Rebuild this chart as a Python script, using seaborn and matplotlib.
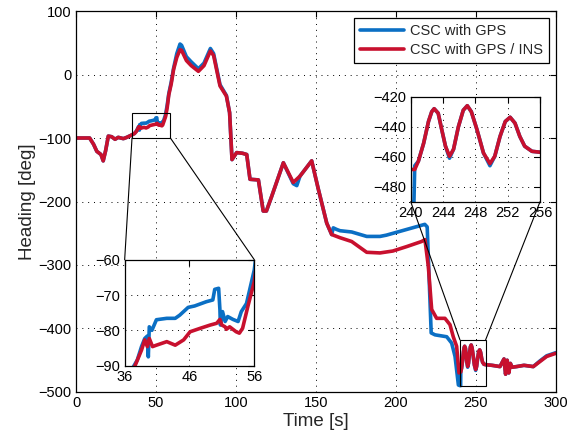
import matplotlib
matplotlib.use("Agg")
import matplotlib.pyplot as plt
import seaborn as sns
import pandas as pd
from matplotlib.patches import Rectangle, ConnectionPatch

# ------------------------------------------------------------------
# Data
# ------------------------------------------------------------------
t_gps = [0, 8.5, 11, 13, 15.6, 17, 18.5, 20.2, 22.3, 24.4, 26.4, 29.6, 31.7, 34.2,
         36.5, 37.95, 38.6, 39.1, 39.5, 39.65, 39.8, 40.2, 40.9, 42.5, 43.8, 44.5,
         45.8, 46.8, 48.6, 49.6, 49.9, 50.5, 50.7, 50.77, 51.1, 51.5, 51.9, 52.7,
         53.5, 54.0, 54.8, 56.0, 57.0, 58.0, 59.5, 61, 63, 65, 66, 69, 72, 76.5, 80,
         84, 86, 90, 94, 96, 97.5, 100.4, 104, 106.7, 108.75, 114, 117, 119, 122.3,
         129.6, 135.8, 138, 140, 147.3, 151.5, 156.7, 159.8, 160.8, 162.9, 165,
         172.3, 181.7, 190, 194, 206.7, 218, 219.5, 222, 224.4, 231.7, 234.8, 236.9,
         239, 240, 240.4, 240.5, 240.95, 241.6, 242.2, 242.6, 242.9, 243.4, 243.8,
         244.3, 244.8, 245.3, 245.9, 246.5, 247.0, 247.5, 248.2, 249.0, 249.8, 250.4,
         251.05, 251.7, 252.3, 252.9, 253.5, 254.1, 255.0, 256, 260, 265,
         267.5, 268.5, 269.5, 270.5, 271.5, 272.5, 275.4, 280, 285.8, 290, 294.2, 300]
hd_gps = [-100, -100, -110, -121, -126, -136, -120, -97, -98, -102, -99, -101, -99, -96,
          -93, -88.4, -84.6, -82.3, -81.6, -87.5, -79, -80, -77, -76.6, -76.6, -75.7,
          -73.5, -73.1, -71.9, -71.4, -68.4, -68.1, -74.2, -78.5, -74.7, -77.5, -76.1, -76.9,
          -77.5, -74.7, -72.4, -62.9, -48, -30, -12, 10, 33, 48, 46, 28, 20, 9, 18,
          41, 33, -16, -33, -60, -134, -123, -124, -126, -165, -166, -215, -215, -192,
          -139, -172, -175, -160, -136, -181, -234, -252, -241.5, -244, -246,
          -248, -255, -255, -253, -244, -236, -240, -407, -410, -413, -423, -444,
          -489, -490, -490, -466, -463, -451, -436.5, -430, -428, -431, -441,
          -453, -461, -455, -440, -429, -426, -430, -442, -457.5, -466, -459.7,
          -446.5, -436.5, -433.7, -437.6, -446.5, -453, -456.4, -457, -458, -460,
          -448, -472, -450, -470, -455, -461, -460, -458, -460, -451, -443, -438]

t_ins = [0, 8.5, 11, 13, 15.6, 17, 18.5, 20.2, 22.3, 24.4, 26.4, 29.6, 31.7, 34.2,
         36.5, 37.6, 38.6, 39.1, 39.5, 39.8, 40.3, 40.9, 42.5, 43.8, 45.1, 46.1, 47.7,
         49.2, 50.2, 50.7, 51.0, 51.5, 51.7, 52.2, 53.2, 53.7, 54.2, 55.0, 56.0, 57.0,
         58.0, 59.5, 61, 63, 65, 66, 69, 72, 76.5, 80, 84, 86, 90, 94, 96, 97.5,
         100.4, 104, 106.7, 108.75, 114, 117, 119, 122.3, 129.6, 135.8, 140, 147.3,
         151.5, 156.7, 159.8, 165, 172.3, 181.7, 190, 198, 206.7, 216, 218.1, 220.2,
         222.3, 225.4, 230.6, 233.75, 235.8, 237.9, 239.4, 240, 240.5, 240.95, 241.6,
         242.2, 242.6, 242.9, 243.4, 243.8, 244.3, 244.8, 245.3, 245.9, 246.5, 247.0,
         247.5, 248.2, 249.0, 249.8, 250.4, 251.05, 251.7, 252.3, 252.9, 253.5, 254.1,
         255.0, 256, 260, 265, 267.5, 268.5, 269.5, 270.5, 271.5, 272.5,
         275.4, 280, 285.8, 290, 294.2, 300]
hd_ins = [-100, -100, -110, -121, -126, -136, -120, -97, -98, -102, -99, -101, -99, -96,
          -93, -90, -85.6, -82.7, -84.6, -82.3, -84.6, -84.2, -83.2, -84.2, -82.7, -80.4, -79.4,
          -78.5, -78, -76.9, -78.5, -79, -79.7, -79, -80.4, -80.8, -79.4, -73.3, -66.2, -52,
          -32, -15, 8, 27, 39, 38, 22, 14, 5, 14, 37, 30, -18, -34, -60, -134,
          -123, -124, -126, -165, -166, -215, -215, -192, -139, -170, -160, -136,
          -181, -234, -252, -257, -263, -280, -281, -278, -271, -263, -260, -302,
          -370, -384, -384, -394, -413, -428, -470, -468.5, -468.5, -463, -451,
          -436.5, -430, -428, -431, -441, -453, -459.7, -455, -440, -429, -426,
          -430, -442, -457.5, -464.6, -459.7, -446.5, -436.5, -433.7, -437.6, -446.5, -453,
          -456.4, -457, -458, -460, -448, -472, -450, -470, -455, -461,
          -460, -458, -460, -452, -444, -439]

series_names = ["CSC with GPS", "CSC with GPS / INS"]
series_colors = ["#0b6fc4", "#c8102e"]

gps = pd.DataFrame({"time": t_gps, "heading": hd_gps})
ins = pd.DataFrame({"time": t_ins, "heading": hd_ins})

# ------------------------------------------------------------------
# Style
# ------------------------------------------------------------------
sns.set_style("white")
plt.rcParams["font.family"] = ["Liberation Sans", "DejaVu Sans"]
plt.rcParams["xtick.direction"] = "in"
plt.rcParams["ytick.direction"] = "in"
plt.rcParams["axes.edgecolor"] = "black"
plt.rcParams["axes.linewidth"] = 0.9

GRID = dict(color="black", linestyle=(0, (1, 5)), linewidth=0.7)
LW = 2.6


def style_axes(ax, fs):
    ax.grid(True, **GRID)
    ax.tick_params(which="both", top=True, right=True, length=4, width=0.8,
                   labelsize=fs, colors="black", pad=3)
    for sp in ax.spines.values():
        sp.set_visible(True)
        sp.set_color("black")


fig = plt.figure(figsize=(5.82, 4.37), dpi=100)
ax = fig.add_axes([0.1306, 0.1030, 0.8247, 0.8718])

for df, name, col in zip([gps, ins], series_names, series_colors):
    sns.lineplot(data=df, x="time", y="heading", ax=ax, color=col, lw=LW,
                 label=name, estimator=None, sort=False)

ax.set_xlim(0, 300)
ax.set_ylim(-500, 100)
ax.set_xticks(range(0, 301, 50))
ax.set_yticks(range(-500, 101, 100))
ax.set_xlabel("Time [s]", fontsize=13.5, labelpad=2)
ax.set_ylabel("Heading [deg]", fontsize=13.5, labelpad=2)
style_axes(ax, 10.5)

leg = ax.legend(loc="upper right", fontsize=10.5, frameon=True, fancybox=False,
                edgecolor="black", framealpha=1, handlelength=3.0, handletextpad=0.4,
                borderaxespad=0.5, borderpad=0.4, labelspacing=0.35)
leg.get_frame().set_linewidth(0.9)

# zoom boxes on the main axes
box1 = (35, -100, 24, 40)
box2 = (240, -490, 16, 72)
for bx in (box1, box2):
    ax.add_patch(Rectangle((bx[0], bx[1]), bx[2], bx[3], fill=False,
                           edgecolor="black", lw=0.8, zorder=5))

# ------------------------------------------------------------------
# Insets
# ------------------------------------------------------------------
ax1 = fig.add_axes([0.2142, 0.1632, 0.2227, 0.2426])
ax2 = fig.add_axes([0.7057, 0.5384, 0.2222, 0.2403])

for a, xl, yl, xt, yt in [(ax1, (36, 56), (-90, -60), [36, 46, 56], [-90, -80, -70, -60]),
                          (ax2, (240, 256), (-490, -420), [240, 244, 248, 252, 256],
                           [-480, -460, -440, -420])]:
    for df, col in zip([gps, ins], series_colors):
        sns.lineplot(data=df, x="time", y="heading", ax=a, color=col, lw=LW,
                     estimator=None, sort=False, legend=False)
    a.set_xlim(*xl)
    a.set_ylim(*yl)
    a.set_xticks(xt)
    a.set_yticks(yt)
    a.set_xlabel("")
    a.set_ylabel("")
    a.set_facecolor("white")
    style_axes(a, 10.5)

# connector lines from boxes to insets
for xy_main, xy_in, a in [((box1[0], box1[1]), (0, 1), ax1),
                          ((box1[0] + box1[2], box1[1]), (1, 1), ax1),
                          ((box2[0], box2[1] + box2[3]), (0, 0), ax2),
                          ((box2[0] + box2[2], box2[1] + box2[3]), (1, 0), ax2)]:
    con = ConnectionPatch(xyA=xy_main, coordsA=ax.transData, xyB=xy_in,
                          coordsB=a.transAxes, color="black", lw=0.8)
    fig.add_artist(con)

fig.savefig("out.png", dpi=100)
